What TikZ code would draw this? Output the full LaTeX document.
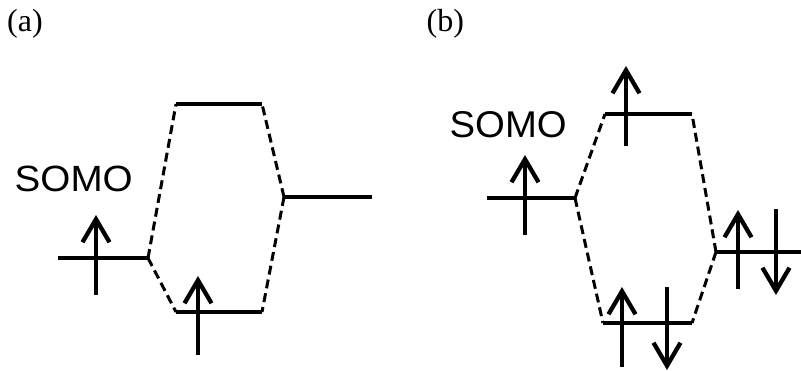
\documentclass[tikz,border=0pt]{standalone}
\usepackage{fontspec}
\setmainfont{Liberation Serif}
\newfontfamily\sansf{Liberation Sans}
\usetikzlibrary{arrows.meta}
\begin{document}
\begin{tikzpicture}[x=1pt,y=-1pt,
  level/.style={line width=4.4pt},
  corr/.style={line width=3pt, dash pattern=on 9pt off 5pt},
  spin/.style={line width=4.3pt, -{Straight Barb[length=23pt,width=27pt]}},
  panel/.style={anchor=base west, inner sep=0pt, font=\fontsize{32}{32}\selectfont},
  somo/.style={anchor=base west, inner sep=0pt}]
\useasboundingbox (0,0) rectangle (801,370);
% panel labels
\node[panel] (la) at (7,31.6) {(a)};
\node[panel] (lb) at (426.5,31.6) {(b)};
% ---------- panel (a) ----------
\coordinate (Al1) at (58,258);  \coordinate (Al2) at (148,258);
\coordinate (At1) at (176,104); \coordinate (At2) at (262,104);
\coordinate (Ab1) at (176,312); \coordinate (Ab2) at (262,312);
\coordinate (Ar1) at (284,197); \coordinate (Ar2) at (372,197);
\draw[level] (Al1) -- (Al2);
\draw[level] (At1) -- (At2);
\draw[level] (Ab1) -- (Ab2);
\draw[level] (Ar1) -- (Ar2);
\draw[corr] (Al2) -- (At1);
\draw[corr] (Al2) -- (Ab1);
\draw[corr] (Ar1) -- (At2);
\draw[corr] (Ar1) -- (Ab2);
\node[somo] (sa) at (14.5,191.5) {\resizebox{118pt}{25.5pt}{\sansf SOMO}};
\draw[spin] (96,295) -- (96,215);
\draw[spin] (198,355) -- (198,276);
% ---------- panel (b) ----------
\coordinate (Bl1) at (487,198); \coordinate (Bl2) at (575,198);
\coordinate (Bt1) at (605,114); \coordinate (Bt2) at (692,114);
\coordinate (Bb1) at (603,323); \coordinate (Bb2) at (692,323);
\coordinate (Br1) at (716,252); \coordinate (Br2) at (801,252);
\draw[level] (Bl1) -- (Bl2);
\draw[level] (Bt1) -- (Bt2);
\draw[level] (Bb1) -- (Bb2);
\draw[level] (Br1) -- (Br2);
\draw[corr] (Bl2) -- (Bt1);
\draw[corr] (Bl2) -- (Bb1);
\draw[corr] (Br1) -- (Bt2);
\draw[corr] (Br1) -- (Bb2);
\node[somo] (sb) at (449.5,137.5) {\resizebox{117pt}{26pt}{\sansf SOMO}};
\draw[spin] (525,235) -- (525,155);
\draw[spin] (626,146) -- (626,66);
\draw[spin] (738,289) -- (738,210);
\draw[spin] (776,209) -- (776,295);
\draw[spin] (622,367) -- (622,287);
\draw[spin] (667,287) -- (667,370);
\end{tikzpicture}
\end{document}
